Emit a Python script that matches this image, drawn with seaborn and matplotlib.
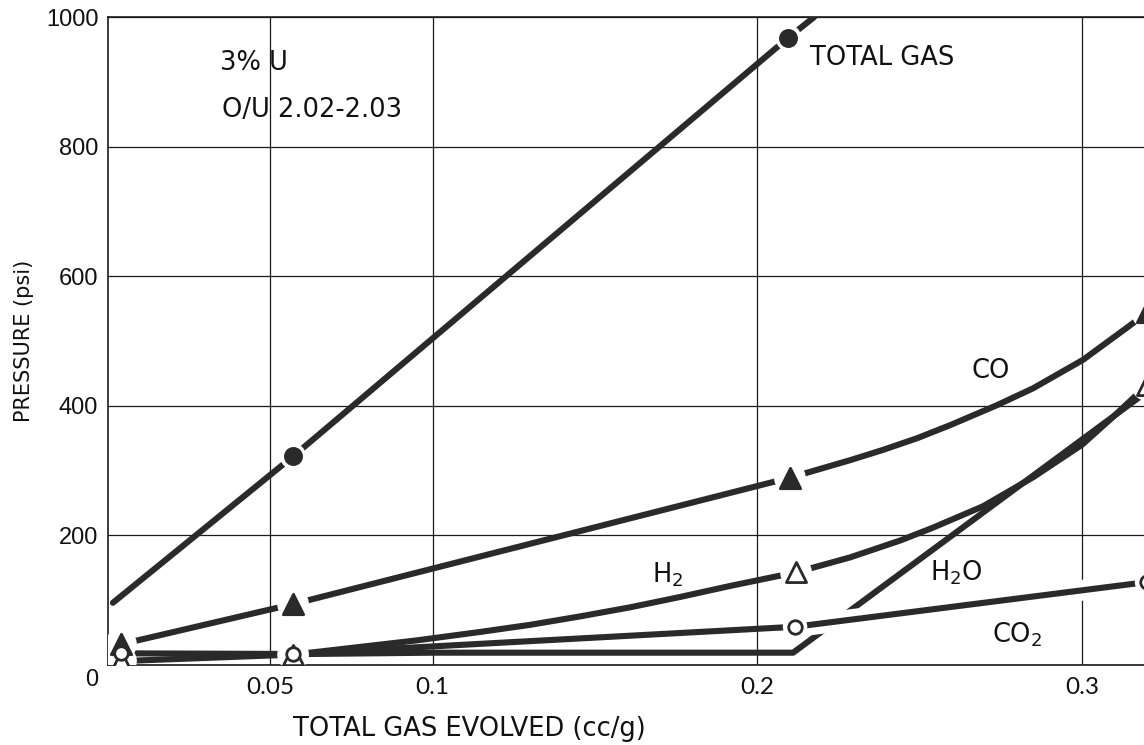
import matplotlib
matplotlib.use("Agg")
import matplotlib.pyplot as plt
import seaborn as sns
import pandas as pd
from matplotlib import patheffects as pe
from matplotlib.transforms import ScaledTranslation

# Gas evolved (cc/g) vs. pressure (psi); *_mark flags the measured points
total_x = [0.0015, 0.057, 0.2095, 0.2175]
total_p = [96, 322, 968, 1000]
total_mark = [False, True, True, False]

co_x = [0.004, 0.057, 0.210, 0.2285, 0.2387, 0.2492, 0.2593, 0.2738, 0.2849, 0.3003, 0.3142, 0.3200]
co_p = [32, 94, 289, 316, 332, 350, 370, 401, 427, 471, 522, 544]
co_mark = [True, True, True, False, False, False, False, False, False, False, False, True]

h2_x = [0.004, 0.057, 0.0951, 0.1146, 0.1300, 0.1454, 0.1608, 0.1762, 0.1916, 0.2119,
        0.2285, 0.2439, 0.2541, 0.2695, 0.2850, 0.3000, 0.3100, 0.3200]
h2_p = [6, 16, 38, 51, 62, 75, 89, 105, 122, 143,
        166, 192, 212, 245, 290, 340, 385, 432]
h2_mark = [True, True] + [False] * 7 + [True] + [False] * 7 + [True]

co2_x = [0.004, 0.057, 0.2116, 0.3200]
co2_p = [18, 17, 59, 128]
co2_mark = [True, True, True, True]

h2o_x = [0.062, 0.100, 0.160, 0.211, 0.320]
h2o_p = [17, 19, 19, 19, 422]

x_ticks = [0.05, 0.1, 0.2, 0.3]
x_ticklabels = ["0.05", "0.1", "0.2", "0.3"]
y_ticks = [0, 200, 400, 600, 800, 1000]
y_ticklabels = ["0", "200", "400", "600", "800", "1000"]

sns.set_theme(style="white")
plt.rcParams["font.family"] = ["DejaVu Sans"]
plt.rcParams["mathtext.fontset"] = "dejavusans"
plt.rcParams["mathtext.default"] = "regular"

INK = "#2a2a2a"
TXT = "#111111"
LW = 4.4

fig = plt.figure(figsize=(11.44, 7.45), dpi=100)
ax = fig.add_axes([108 / 1144, 1 - 665 / 745, 1 - 108 / 1144, (665 - 17) / 745])

def frame(xs, ps):
    return pd.DataFrame({"x": xs, "p": ps})

# curves
for xs, ps in [(total_x, total_p), (co_x, co_p), (h2_x, h2_p), (h2o_x, h2o_p), (co2_x, co2_p)]:
    sns.lineplot(data=frame(xs, ps), x="x", y="p", ax=ax, color=INK, lw=LW,
                 estimator=None, sort=False, solid_capstyle="round",
                 solid_joinstyle="round", zorder=3)

# CO2 passes over the H2O line beyond the 0.21 point
i0 = 2
sns.lineplot(data=frame(co2_x[i0:], co2_p[i0:]), x="x", y="p", ax=ax, color=INK, lw=LW,
             estimator=None, sort=False, solid_capstyle="butt", zorder=4,
             path_effects=[pe.Stroke(linewidth=15, foreground="white"), pe.Normal()])

def marked(xs, ps, flags):
    return frame([x for x, f in zip(xs, flags) if f], [p for p, f in zip(ps, flags) if f])

series = [
    (marked(total_x, total_p, total_mark), "o", 135, INK, INK, 350),
    (marked(co_x, co_p, co_mark), "^", 215, INK, INK, 520),
    (marked(h2_x, h2_p, h2_mark), "^", 210, "white", INK, 520),
    (marked(co2_x, co2_p, co2_mark), "o", 95, "white", INK, 310),
]
# white clearance around the data points, then the symbols
for df, m, s, fc, ec, halo in series:
    sns.scatterplot(data=df, x="x", y="p", ax=ax, marker="o", s=halo, color="white",
                    edgecolor="none", zorder=5, legend=False)
for df, m, s, fc, ec, halo in series:
    sns.scatterplot(data=df, x="x", y="p", ax=ax, marker=m, s=s, color=fc,
                    edgecolor=ec, linewidth=2.0, zorder=6, legend=False)

ax.set_xlim(0, 1036 / 3247)
ax.set_ylim(0, 1000)
ax.set_xticks(x_ticks)
ax.set_xticklabels(x_ticklabels)
ax.set_yticks(y_ticks)
ax.set_yticklabels(y_ticklabels)
ax.tick_params(axis="both", length=0, colors=TXT)
ax.tick_params(axis="x", pad=9)
ax.tick_params(axis="y", pad=7)
for lab in ax.get_xticklabels():
    lab.set_fontfamily(["Lato", "DejaVu Sans"])
    lab.set_fontsize(17.5)
for lab in ax.get_yticklabels():
    lab.set_fontfamily(["Liberation Sans", "DejaVu Sans"])
    lab.set_fontsize(17)
zero = ax.get_yticklabels()[0]
zero.set_transform(zero.get_transform() + ScaledTranslation(0, -12 / 100, fig.dpi_scale_trans))

ax.grid(True, color="#1a1a1a", lw=0.9)
ax.set_axisbelow(True)
for side in ["left", "bottom", "top"]:
    ax.spines[side].set_color("#1a1a1a")
    ax.spines[side].set_linewidth(1.2)
ax.spines["right"].set_visible(False)

ax.set_xlabel("TOTAL GAS EVOLVED (cc/g)", fontsize=18.5, color=TXT)
ax.set_ylabel("PRESSURE (psi)", fontsize=15, color=TXT)
ax.xaxis.set_label_coords(0.349, -0.078)
ax.yaxis.set_label_coords(-0.071, 0.5)

txt = dict(fontsize=18.5, color=TXT, va="baseline", ha="left")
ax.text(0.0345, 918, "3% U", **txt)
ax.text(0.0350, 846, "O/U 2.02-2.03", **txt)
ax.text(0.2162, 926, "TOTAL GAS", **txt)
ax.text(0.2660, 443, "CO", **txt)
ax.text(0.1675, 128, "H$_2$", **txt)
ax.text(0.2532, 131, "H$_2$O", **txt)
ax.text(0.2722, 35, "CO$_2$", **txt)

fig.savefig("out.png", dpi=100)
